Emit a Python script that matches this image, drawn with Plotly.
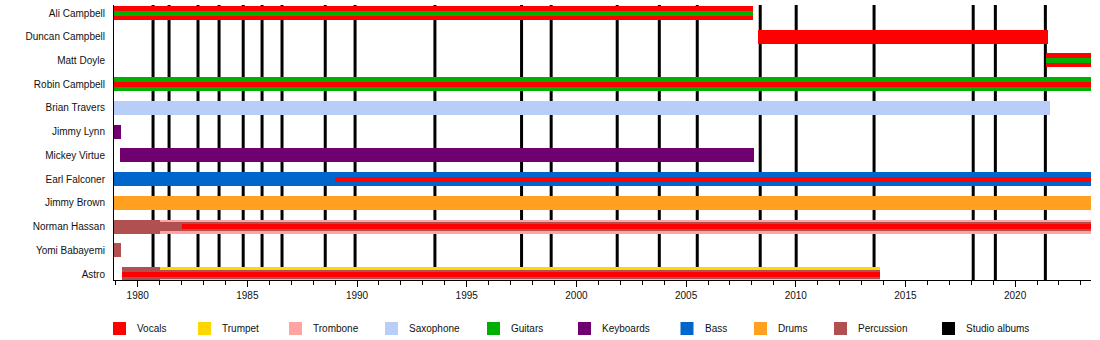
import plotly.graph_objects as go

# ---------------- data ----------------
members = ["Ali Campbell", "Duncan Campbell", "Matt Doyle", "Robin Campbell",
           "Brian Travers", "Jimmy Lynn", "Mickey Virtue", "Earl Falconer",
           "Jimmy Brown", "Norman Hassan", "Yomi Babayemi", "Astro"]

period_start = 1978.92
period_end = 2023.46

# primary instrument (full-width bars)
main_member = ["Ali Campbell", "Duncan Campbell", "Matt Doyle", "Robin Campbell",
               "Brian Travers", "Jimmy Lynn", "Mickey Virtue", "Earl Falconer",
               "Jimmy Brown", "Norman Hassan", "Norman Hassan", "Yomi Babayemi",
               "Astro", "Astro"]
main_role = ["Vocals", "Vocals", "Vocals", "Guitars",
             "Saxophone", "Keyboards", "Keyboards", "Bass",
             "Drums", "Percussion", "Trombone", "Percussion",
             "Percussion", "Trumpet"]
main_start = [1978.92, 2008.29, 2021.41, 1978.92,
              1978.92, 1978.92, 1979.18, 1978.92,
              1978.92, 1978.92, 1981.00, 1978.92,
              1979.27, 1981.00]
main_end = [2008.05, 2021.49, 2023.46, 2023.46,
            2021.59, 1979.22, 2008.09, 2023.46,
            2023.46, 1981.00, 2023.46, 1979.22,
            1981.00, 2013.84]

# second instrument (medium bars)
mid_member = ["Norman Hassan", "Astro"]
mid_role = ["Percussion", "Percussion"]
mid_start = [1981.00, 1981.00]
mid_end = [2023.46, 2013.84]

# third instrument (thin bars)
thin_member = ["Ali Campbell", "Matt Doyle", "Robin Campbell", "Earl Falconer",
               "Norman Hassan", "Astro"]
thin_role = ["Guitars", "Guitars", "Vocals", "Vocals", "Vocals", "Vocals"]
thin_start = [1978.92, 2021.41, 1978.92, 1988.99, 1982.04, 1979.27]
thin_end = [2008.05, 2023.46, 2023.46, 2023.46, 2023.46, 2013.84]

studio_albums = [1980.70, 1981.43, 1982.75, 1983.71, 1984.81, 1985.67, 1986.58,
                 1988.55, 1989.91, 1993.55, 1997.50, 1998.85, 2001.86, 2003.78,
                 2005.51, 2008.38, 2010.02, 2013.57, 2018.09, 2019.10, 2021.38]

legend_labels = ["Vocals", "Trumpet", "Trombone", "Saxophone", "Guitars",
                 "Keyboards", "Bass", "Drums", "Percussion", "Studio albums"]

# ---------------- styles ----------------
colors = {
    "Vocals": "#FF0000",
    "Trumpet": "#FFD700",
    "Trombone": "#FFA3A3",
    "Saxophone": "#B8CEF8",
    "Guitars": "#00B000",
    "Keyboards": "#700070",
    "Bass": "#0066CC",
    "Drums": "#FFA020",
    "Percussion": "#B05050",
    "Studio albums": "#000000",
}

W, H = 1100, 340
ML, MR, MT, MB = 114, 9, 5, 60
plot_w = W - ML - MR
plot_h = H - MT - MB
y_range = [11.25, -0.337]
row_px = plot_h / (y_range[0] - y_range[1])

fig = go.Figure()


def add_layer(mem, role, start, end, px):
    roles_order = []
    for r in role:
        if r not in roles_order:
            roles_order.append(r)
    for r in roles_order:
        idx = [i for i, rr in enumerate(role) if rr == r]
        fig.add_trace(go.Bar(
            orientation="h",
            y=[mem[i] for i in idx],
            base=[start[i] for i in idx],
            x=[end[i] - start[i] for i in idx],
            width=px / row_px,
            marker=dict(color=colors[r], line=dict(width=0)),
            name=r,
            showlegend=False,
            hovertemplate=r + ": %{base:.2f}–%{x:.2f}<extra>%{y}</extra>",
        ))


add_layer(main_member, main_role, main_start, main_end, 14)
add_layer(mid_member, mid_role, mid_start, mid_end, 9)
add_layer(thin_member, thin_role, thin_start, thin_end, 5)

shapes = []
for yr in studio_albums:
    shapes.append(dict(type="line", xref="x", yref="paper", x0=yr, x1=yr,
                       y0=0, y1=1, line=dict(color="black", width=3),
                       layer="below"))

# manual legend
legend_px = [113, 198, 289, 385, 487, 578, 680.5, 754, 834, 942]
annotations = []
sw_top, sw_size = 322, 13
for lab, lx in zip(legend_labels, legend_px):
    x0 = (lx - ML) / plot_w
    x1 = (lx + sw_size - ML) / plot_w
    y0 = (H - MB - sw_top) / plot_h
    y1 = (H - MB - sw_top - sw_size) / plot_h
    shapes.append(dict(type="rect", xref="paper", yref="paper",
                       x0=x0, x1=x1, y0=y1, y1=y0,
                       fillcolor=colors[lab], line=dict(width=0)))
    annotations.append(dict(xref="paper", yref="paper",
                            x=(lx + 22 - ML) / plot_w,
                            y=(H - MB - (sw_top + sw_size / 2)) / plot_h,
                            text=lab, showarrow=False, xanchor="left",
                            yanchor="middle",
                            font=dict(size=10, color="#111")))

fig.update_layout(
    width=W, height=H,
    margin=dict(l=ML, r=MR, t=MT, b=MB, pad=0),
    barmode="overlay",
    plot_bgcolor="white",
    paper_bgcolor="white",
    font=dict(family="Liberation Sans, Arial, sans-serif", size=10, color="#111"),
    shapes=shapes,
    annotations=annotations,
    showlegend=False,
    bargap=0,
)

fig.update_xaxes(
    range=[period_start, period_end],
    showgrid=False, zeroline=False,
    showline=True, linecolor="black", linewidth=1,
    ticks="outside", ticklen=6, tickcolor="black", tickwidth=1,
    tick0=1980, dtick=5,
    minor=dict(ticks="outside", ticklen=4, dtick=1, tick0=1980,
               tickcolor="black", tickwidth=1, showgrid=False),
    tickfont=dict(size=10, color="#111"),
)
fig.update_yaxes(
    type="category",
    categoryorder="array", categoryarray=members,
    range=y_range,
    showgrid=False, zeroline=False,
    showline=True, linecolor="black", linewidth=1,
    ticks="", ticklabelstandoff=6,
    tickfont=dict(size=10, color="#111"),
)

fig.write_html("out.html")
